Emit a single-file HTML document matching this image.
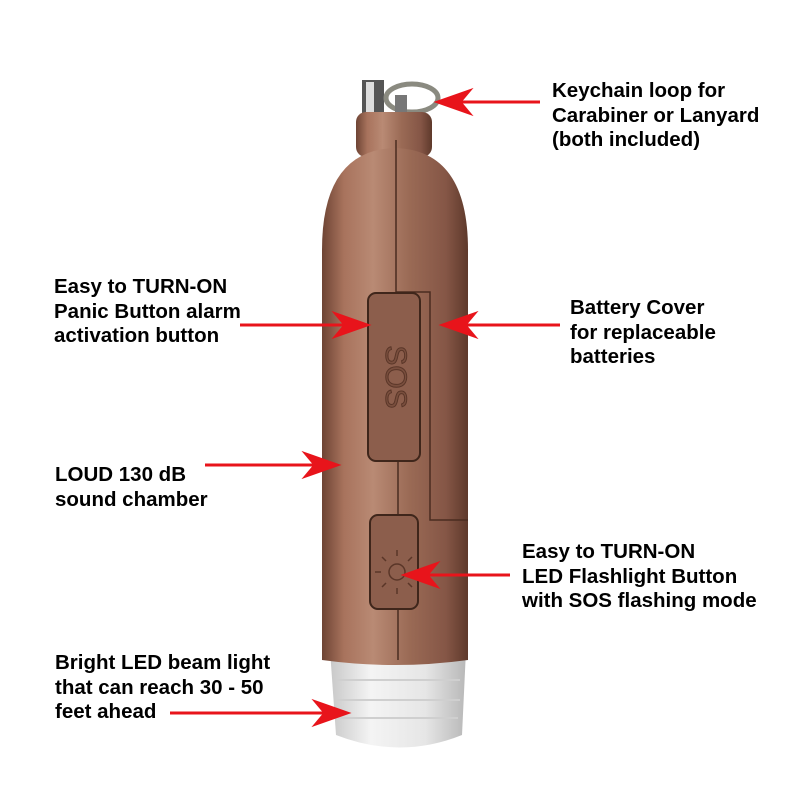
<!DOCTYPE html>
<html><head><meta charset="utf-8"><style>
body{margin:0;background:#fff;width:800px;height:800px;overflow:hidden}
.t{position:absolute;font-family:"Liberation Sans",sans-serif;font-weight:bold;font-size:20.5px;line-height:24.5px;color:#000;white-space:nowrap}
</style></head><body>
<svg width="800" height="800" style="position:absolute;left:0;top:0">
<defs>
<linearGradient id="b" x1="0" x2="1">
<stop offset="0" stop-color="#6e4434"/><stop offset="0.15" stop-color="#a8735d"/><stop offset="0.35" stop-color="#b98a74"/><stop offset="0.6" stop-color="#9a6a55"/><stop offset="0.85" stop-color="#855646"/><stop offset="1" stop-color="#5e392b"/>
</linearGradient>
<linearGradient id="l" x1="0" x2="1">
<stop offset="0" stop-color="#c8c8c8"/><stop offset="0.3" stop-color="#f4f4f4"/><stop offset="0.7" stop-color="#e6e6e6"/><stop offset="1" stop-color="#b8b8b8"/>
</linearGradient>
</defs>
<rect x="362" y="80" width="22" height="40" fill="#555"/>
<rect x="366" y="82" width="8" height="36" fill="#ddd"/>
<ellipse cx="412" cy="98" rx="26" ry="14" fill="none" stroke="#8a8a80" stroke-width="5"/>
<rect x="395" y="95" width="12" height="25" fill="#777"/>
<path d="M330 650 L466 650 L462 735 Q400 760 336 735 Z" fill="url(#l)"/>
<path d="M336 680 H460 M336 700 H460 M338 718 H458" stroke="#cfcfcf" stroke-width="2"/>
<rect x="356" y="112" width="76" height="45" rx="10" fill="url(#b)"/>
<path d="M322 660 L322 250 Q322 150 395 148 Q468 150 468 250 L468 660 Q395 670 322 660 Z" fill="url(#b)"/>
<path d="M396 140 V292 H430 V520 H468" fill="none" stroke="#4a2c20" stroke-width="1.5"/>
<path d="M398 460 V660" stroke="#4a2c20" stroke-width="1.5"/>
<rect x="368" y="293" width="52" height="168" rx="8" fill="#8c5e4c" stroke="#3f261b" stroke-width="2"/>
<text x="394" y="377" transform="rotate(90 394 377)" text-anchor="middle" dominant-baseline="middle" font-family="Liberation Sans" font-size="30" fill="#7a4f3e" stroke="#5a3628" stroke-width="1">SOS</text>
<rect x="370" y="515" width="48" height="94" rx="8" fill="#8c5e4c" stroke="#3f261b" stroke-width="2"/>
<circle cx="397" cy="572" r="8" fill="none" stroke="#5a3628" stroke-width="1.5"/>
<g stroke="#5a3628" stroke-width="1.5"><path d="M397 556v-6M397 588v6M381 572h-6M413 572h6M386 561l-4-4M408 583l4 4M386 583l-4 4M408 561l4-4"/></g>
<g fill="#e8141b" stroke="#e8141b">
<line x1="540" y1="102" x2="455" y2="102" stroke-width="3"/><path d="M435 102 L472 89 L461 102 L472 115 Z"/>
<line x1="240" y1="325" x2="345" y2="325" stroke-width="3"/><path d="M370 325 L333 312 L344 325 L333 338 Z"/>
<line x1="560" y1="325" x2="460" y2="325" stroke-width="3"/><path d="M440 325 L477 312 L466 325 L477 338 Z"/>
<line x1="205" y1="465" x2="315" y2="465" stroke-width="3"/><path d="M340 465 L303 452 L314 465 L303 478 Z"/>
<line x1="510" y1="575" x2="425" y2="575" stroke-width="3"/><path d="M402 575 L439 562 L428 575 L439 588 Z"/>
<line x1="170" y1="713" x2="325" y2="713" stroke-width="3"/><path d="M350 713 L313 700 L324 713 L313 726 Z"/>
</g>
</svg>
<div class="t" style="left:552px;top:79px">Keychain loop for<br>Carabiner or Lanyard<br>(both included)</div>
<div class="t" style="left:54px;top:275px">Easy to TURN-ON<br>Panic Button alarm<br>activation button</div>
<div class="t" style="left:570px;top:296px">Battery Cover<br>for replaceable<br>batteries</div>
<div class="t" style="left:55px;top:463px">LOUD 130 dB<br>sound chamber</div>
<div class="t" style="left:522px;top:540px">Easy to TURN-ON<br>LED Flashlight Button<br>with SOS flashing mode</div>
<div class="t" style="left:55px;top:651px">Bright LED beam light<br>that can reach 30 - 50<br>feet ahead</div>
</body></html>
